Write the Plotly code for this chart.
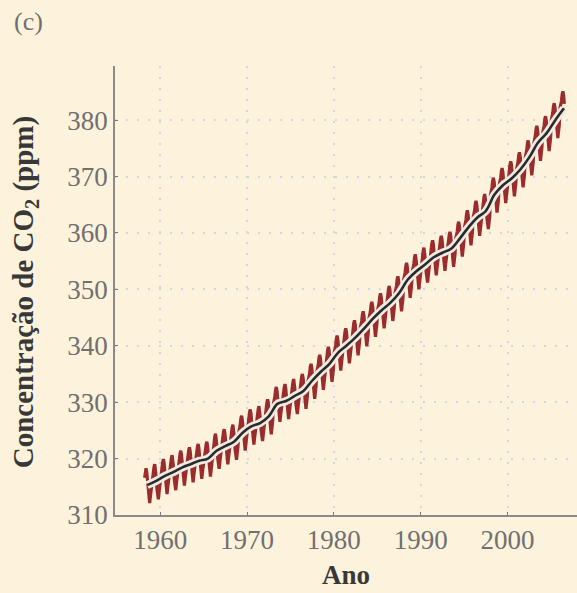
import plotly.graph_objects as go

# Annual mean CO2 concentration (ppm)
years = list(range(1958, 2007))
annual_mean = [315.3, 316.0, 316.9, 317.6, 318.4, 319.0, 319.6, 320.0, 321.4, 322.2,
               323.0, 324.6, 325.7, 326.3, 327.5, 329.7, 330.2, 331.1, 332.0, 333.8,
               335.4, 336.8, 338.8, 340.1, 341.5, 343.1, 344.8, 346.3, 347.6, 349.3,
               351.7, 353.2, 354.4, 355.7, 356.5, 357.2, 359.0, 361.0, 362.7, 363.9,
               366.8, 368.5, 369.7, 371.3, 373.4, 376.0, 377.7, 380.0, 382.1]
# Seasonal deviation from the annual mean for each month (ppm), Jan..Dec
seasonal = [0.0, 0.6, 1.3, 2.5, 3.0, 2.3, 0.8, -1.3, -3.0, -3.2, -2.0, -0.9]

x_ticks = [1960, 1970, 1980, 1990, 2000]
y_ticks = [310, 320, 330, 340, 350, 360, 370, 380]

# monthly series built from the annual mean and the monthly deviation
mx, my = [], []
for yr, m in zip(years, annual_mean):
    for k, s in enumerate(seasonal):
        if yr == 1958 and k < 2:
            continue
        if yr == 2006 and k > 6:
            continue
        mx.append(yr + (k + 0.5) / 12)
        my.append(m + s)

tx = [y + 0.5 for y in years]

fig = go.Figure()
fig.add_trace(go.Scatter(x=mx, y=my, mode="lines",
                         line=dict(color="#9b2c2e", width=3.2), hoverinfo="skip"))
fig.add_trace(go.Scatter(x=tx, y=annual_mean, mode="lines", line_shape="spline",
                         line=dict(color="#eeebe2", width=8), hoverinfo="skip"))
fig.add_trace(go.Scatter(x=tx, y=annual_mean, mode="lines", line_shape="spline",
                         line=dict(color="#2a2a2a", width=2.6), hoverinfo="skip"))

font_serif = "Liberation Serif"
axis_common = dict(showgrid=True, gridcolor="#d0d8e4", griddash="2px,9px", gridwidth=2,
                   showline=True, linecolor="#8a8a88", linewidth=1.6,
                   ticks="inside", ticklen=3, tickcolor="#777",
                   tickfont=dict(family=font_serif, size=27, color="#707070"),
                   zeroline=False)

fig.update_layout(
    width=577, height=593,
    paper_bgcolor="#fdf3dc", plot_bgcolor="#fdf3dc",
    margin=dict(l=115, r=0, t=66, b=78),
    showlegend=False,
    xaxis=dict(range=[1954.8, 2008.0], tickvals=x_ticks, **axis_common),
    yaxis=dict(range=[310, 389.6], tickvals=y_ticks, **axis_common),
    annotations=[
        dict(text="(c)", xref="paper", yref="paper", x=-0.188, y=1.098,
             xanchor="center", yanchor="middle", showarrow=False,
             font=dict(family=font_serif, size=26, color="#707070")),
        dict(text="<b>Concentração de CO<sub>2</sub> (ppm)</b>", xref="paper", yref="paper",
             x=-0.196, y=0.497, xanchor="center", yanchor="middle", showarrow=False,
             textangle=-90,
             font=dict(family=font_serif, size=29, color="#383838")),
        dict(text="<b>Ano</b>", xref="paper", yref="paper", x=0.50, y=-0.133,
             xanchor="center", yanchor="middle", showarrow=False,
             font=dict(family=font_serif, size=27, color="#383838")),
    ],
)

fig.write_html("out.html", config={"displayModeBar": False},
               post_script="document.body.style.margin='0';")
